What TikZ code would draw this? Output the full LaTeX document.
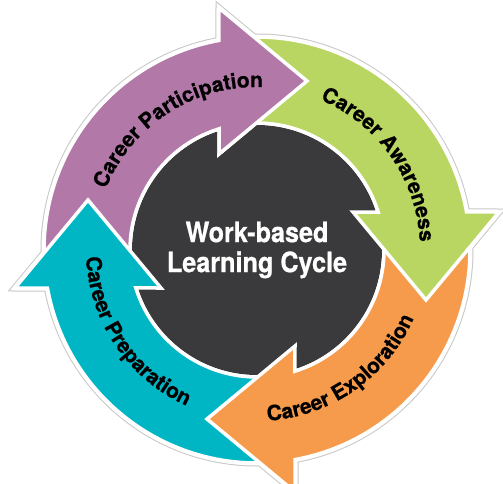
\documentclass[tikz,border=0pt]{standalone}
\usepackage{fontspec}
\setmainfont{TeX Gyre Heros}
\newfontfamily\hubfont[FakeStretch=0.9,FakeBold=0.6]{TeX Gyre Heros}
\newfontfamily\arcfont[FakeBold=0.5]{TeX Gyre Heros}
\usetikzlibrary{decorations.text}
\definecolor{cycle-purple}{RGB}{178,120,168}
\definecolor{cycle-green}{RGB}{185,214,98}
\definecolor{cycle-orange}{RGB}{246,155,76}
\definecolor{cycle-teal}{RGB}{0,182,196}
\definecolor{hub-gray}{RGB}{58,58,60}
\newcommand{\labelfont}{\arcfont\fontsize{21}{21}\selectfont\bfseries}

\begin{document}
\begin{tikzpicture}[x=1pt,y=1pt,
	cycle arrow/.pic={
		\path[pic actions] (100.3:213)--(-38,242)--(50,169)--(-38,96)--(107.4:127)
			arc[start angle=107.4,end angle=189.1,radius=127]--(185.4:213)
			arc[start angle=185.4,end angle=100.3,radius=213]--cycle;
	},
	halo/.style={draw=black!22,line width=7pt},
	rim/.style={draw=white,line width=5pt},
	band/.style={draw=white,line width=3.5pt},
	label text/.style={decorate,decoration={text along path,text align=center,
		text={|\labelfont|#1}}}]
	\useasboundingbox (-257,-233) rectangle (246,250);
	
	% outline behind the four arrows
	\foreach \turn in {0,-90,-180,-270}
		\pic[rotate=\turn,halo] {cycle arrow};
	\foreach \turn in {0,-90,-180,-270}
		\pic[rotate=\turn,rim] {cycle arrow};
	
	\fill[hub-gray] (0,0) circle (125);
	
	% each head lies over the tail of the next arrow
	\pic[fill=cycle-purple,band] {cycle arrow};
	\pic[rotate=-270,fill=cycle-teal,band] {cycle arrow};
	\pic[rotate=-180,fill=cycle-orange,band] {cycle arrow};
	\pic[rotate=-90,fill=cycle-green,band] {cycle arrow};
	\begin{scope}
		\clip (-41,60) rectangle (70,252);
		\pic[fill=cycle-purple,band] {cycle arrow};
	\end{scope}
	
	\node[text=white,align=center,font=\hubfont\bfseries\fontsize{28}{30}\selectfont]
		(hub) at (0,0) {Work-based\\Learning Cycle};
	
	\path[label text=Career Participation]
		(183:163) arc[start angle=183,end angle=63,radius=163];
	\path[label text=Career Awareness]
		(95:163) arc[start angle=95,end angle=-25,radius=163];
	\path[label text=Career Exploration]
		(-115:171) arc[start angle=-115,end angle=5,radius=171];
	\path[label text=Career Preparation]
		(154:171) arc[start angle=154,end angle=274,radius=171];
\end{tikzpicture}
\end{document}
